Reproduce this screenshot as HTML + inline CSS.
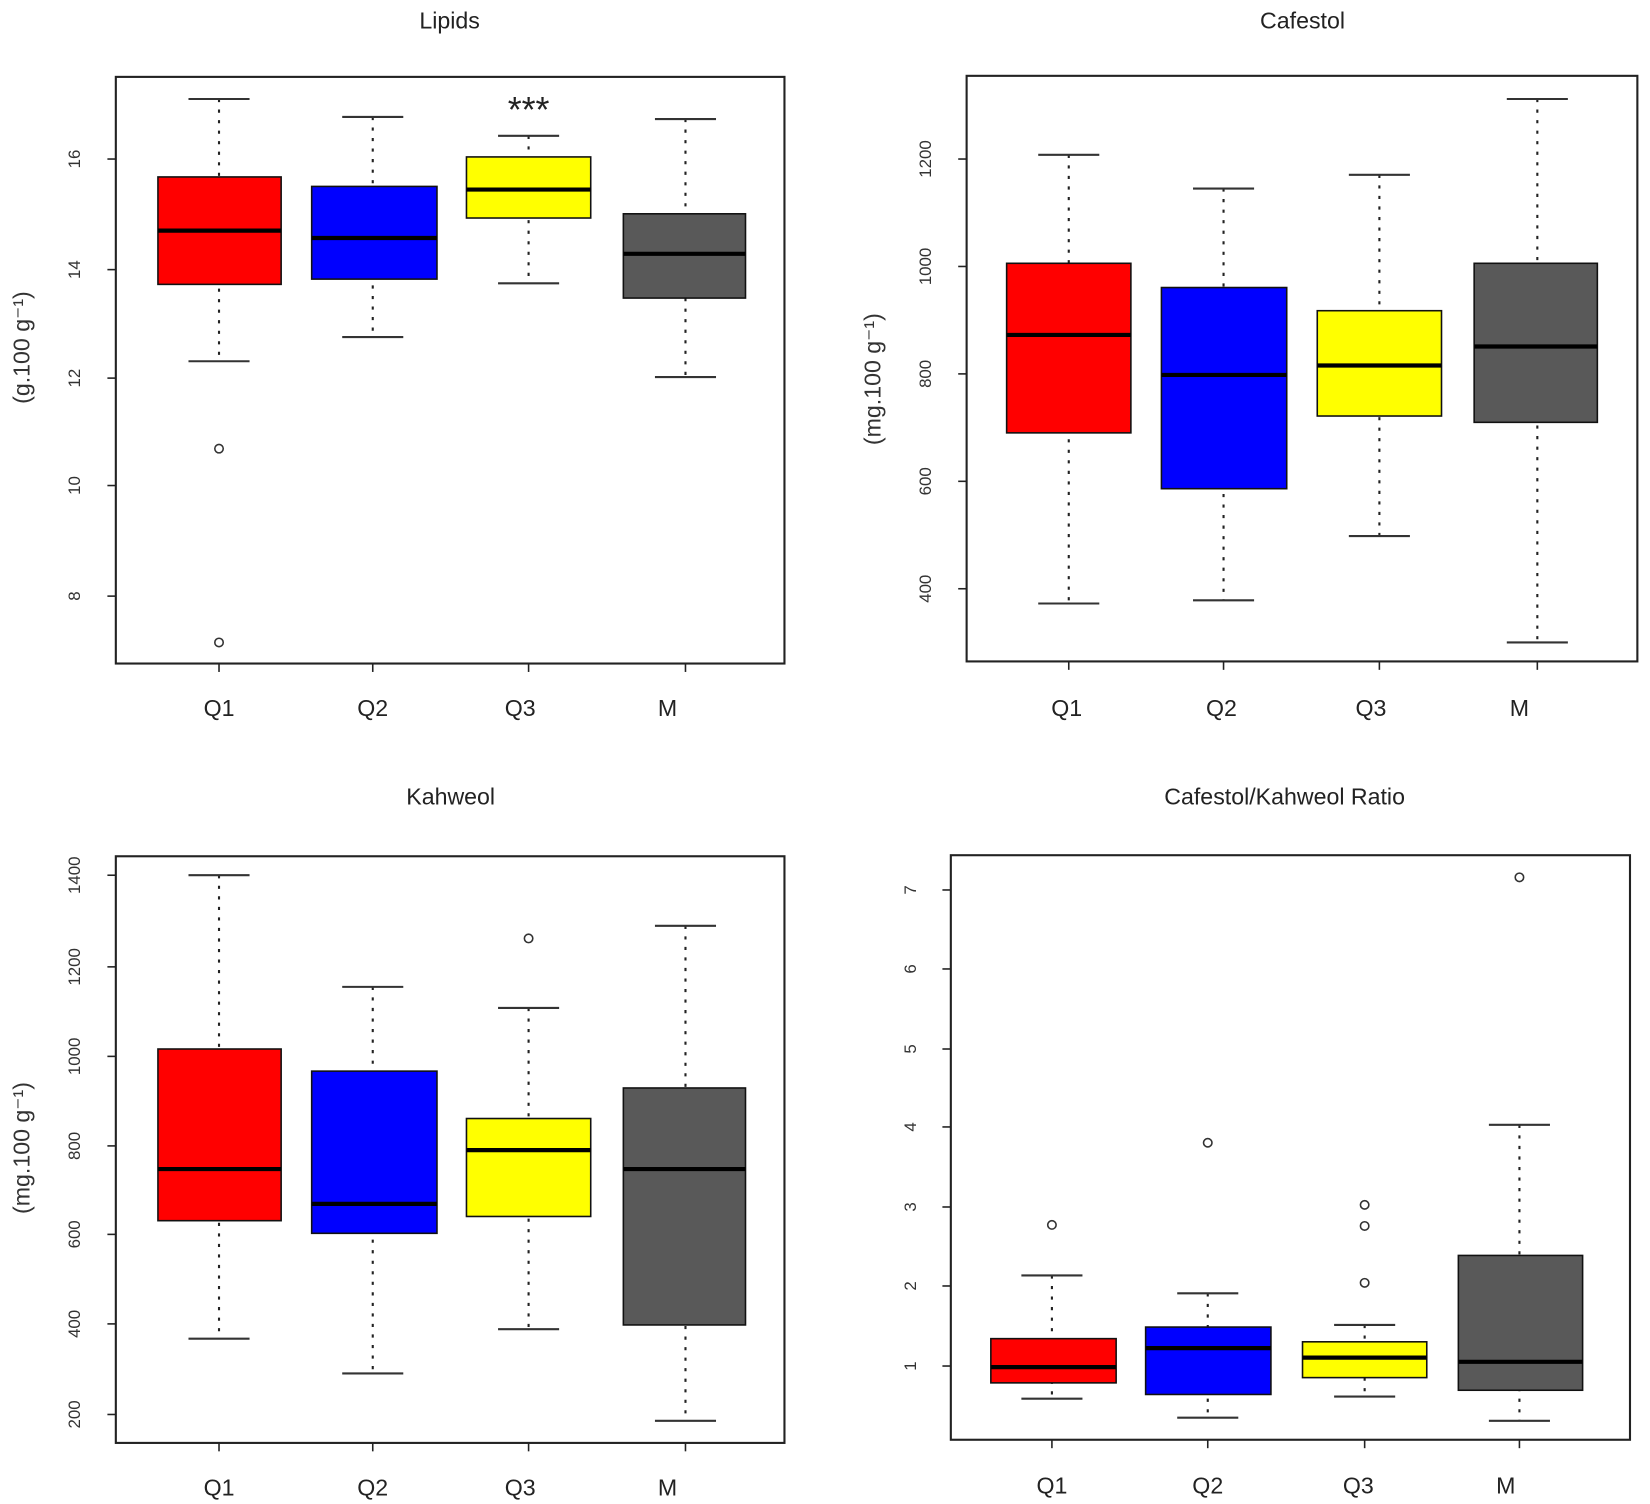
<!DOCTYPE html>
<html><head><style>html,body{margin:0;padding:0;background:#fff}svg{display:block}</style></head>
<body>
<svg width="1650" height="1504" viewBox="0 0 1567 1428" preserveAspectRatio="none" xmlns="http://www.w3.org/2000/svg" font-family="Liberation Sans, sans-serif">
<style>
.f{fill:none;stroke:#222;stroke-width:2}
.b{stroke:#111;stroke-width:1.5}
.m{stroke:#000;stroke-width:4}
.w{stroke:#222;stroke-width:2;stroke-dasharray:3,7}
.c{stroke:#333;stroke-width:2}
.o{fill:none;stroke:#333;stroke-width:1.5}
.tk{stroke:#222;stroke-width:1.5}
.t{font-size:22px;fill:#222;text-anchor:middle}
.y{font-size:16px;fill:#333;text-anchor:middle}
.x{font-size:22px;fill:#222;text-anchor:middle}
.l{font-size:22px;fill:#333;text-anchor:middle}
</style>

<!-- Panel 1 Lipids -->
<text class="t" x="427" y="27">Lipids</text>
<rect class="f" x="110" y="73" width="635" height="557"/>
<g class="tk"><line x1="102" y1="151" x2="110" y2="151"/><line x1="102" y1="256" x2="110" y2="256"/><line x1="102" y1="359" x2="110" y2="359"/><line x1="102" y1="461" x2="110" y2="461"/><line x1="102" y1="566" x2="110" y2="566"/>
<line x1="208" y1="630" x2="208" y2="638"/><line x1="354" y1="630" x2="354" y2="638"/><line x1="502" y1="630" x2="502" y2="638"/><line x1="651" y1="630" x2="651" y2="638"/></g>
<g class="y"><text transform="translate(76,151) rotate(-90)">16</text><text transform="translate(76,256) rotate(-90)">14</text><text transform="translate(76,359) rotate(-90)">12</text><text transform="translate(76,461) rotate(-90)">10</text><text transform="translate(76,566) rotate(-90)">8</text></g>
<text class="l" transform="translate(28,330) rotate(-90)">(g.100 g⁻¹)</text>
<g class="x"><text x="208" y="680">Q1</text><text x="354" y="680">Q2</text><text x="494" y="680">Q3</text><text x="634" y="680">M</text></g>
<line class="w" x1="208" y1="94" x2="208" y2="343"/><line class="c" x1="179" y1="94" x2="237" y2="94"/><line class="c" x1="179" y1="343" x2="237" y2="343"/>
<rect class="b" x="150" y="168" width="117" height="102" fill="#ff0000"/><line class="m" x1="150" y1="219" x2="267" y2="219"/>
<circle class="o" cx="208" cy="426" r="4"/><circle class="o" cx="208" cy="610" r="4"/>
<line class="w" x1="354" y1="111" x2="354" y2="320"/><line class="c" x1="325" y1="111" x2="383" y2="111"/><line class="c" x1="325" y1="320" x2="383" y2="320"/>
<rect class="b" x="296" y="177" width="119" height="88" fill="#0000ff"/><line class="m" x1="296" y1="226" x2="415" y2="226"/>
<line class="w" x1="502" y1="129" x2="502" y2="269"/><line class="c" x1="473" y1="129" x2="531" y2="129"/><line class="c" x1="473" y1="269" x2="531" y2="269"/>
<rect class="b" x="443" y="149" width="118" height="58" fill="#ffff00"/><line class="m" x1="443" y1="180" x2="561" y2="180"/>
<text x="502" y="116" font-size="34" fill="#222" text-anchor="middle">***</text>
<line class="w" x1="651" y1="113" x2="651" y2="358"/><line class="c" x1="622" y1="113" x2="680" y2="113"/><line class="c" x1="622" y1="358" x2="680" y2="358"/>
<rect class="b" x="592" y="203" width="116" height="80" fill="#595959"/><line class="m" x1="592" y1="241" x2="708" y2="241"/>

<!-- Panel 2 Cafestol -->
<text class="t" x="1237" y="27">Cafestol</text>
<rect class="f" x="918" y="72" width="637" height="556"/>
<g class="tk"><line x1="910" y1="151" x2="918" y2="151"/><line x1="910" y1="253" x2="918" y2="253"/><line x1="910" y1="355" x2="918" y2="355"/><line x1="910" y1="457" x2="918" y2="457"/><line x1="910" y1="559" x2="918" y2="559"/>
<line x1="1015" y1="628" x2="1015" y2="636"/><line x1="1162" y1="628" x2="1162" y2="636"/><line x1="1310" y1="628" x2="1310" y2="636"/><line x1="1460" y1="628" x2="1460" y2="636"/></g>
<g class="y"><text transform="translate(884,151) rotate(-90)">1200</text><text transform="translate(884,253) rotate(-90)">1000</text><text transform="translate(884,355) rotate(-90)">800</text><text transform="translate(884,457) rotate(-90)">600</text><text transform="translate(884,559) rotate(-90)">400</text></g>
<text class="l" transform="translate(836,360) rotate(-90)">(mg.100 g⁻¹)</text>
<g class="x"><text x="1013" y="680">Q1</text><text x="1160" y="680">Q2</text><text x="1302" y="680">Q3</text><text x="1443" y="680">M</text></g>
<line class="w" x1="1015" y1="147" x2="1015" y2="573"/><line class="c" x1="986" y1="147" x2="1044" y2="147"/><line class="c" x1="986" y1="573" x2="1044" y2="573"/>
<rect class="b" x="956" y="250" width="118" height="161" fill="#ff0000"/><line class="m" x1="956" y1="318" x2="1074" y2="318"/>
<line class="w" x1="1162" y1="179" x2="1162" y2="570"/><line class="c" x1="1133" y1="179" x2="1191" y2="179"/><line class="c" x1="1133" y1="570" x2="1191" y2="570"/>
<rect class="b" x="1103" y="273" width="119" height="191" fill="#0000ff"/><line class="m" x1="1103" y1="356" x2="1222" y2="356"/>
<line class="w" x1="1310" y1="166" x2="1310" y2="509"/><line class="c" x1="1281" y1="166" x2="1339" y2="166"/><line class="c" x1="1281" y1="509" x2="1339" y2="509"/>
<rect class="b" x="1251" y="295" width="118" height="100" fill="#ffff00"/><line class="m" x1="1251" y1="347" x2="1369" y2="347"/>
<line class="w" x1="1460" y1="94" x2="1460" y2="610"/><line class="c" x1="1431" y1="94" x2="1489" y2="94"/><line class="c" x1="1431" y1="610" x2="1489" y2="610"/>
<rect class="b" x="1400" y="250" width="117" height="151" fill="#595959"/><line class="m" x1="1400" y1="329" x2="1517" y2="329"/>

<!-- Panel 3 Kahweol -->
<text class="t" x="428" y="764">Kahweol</text>
<rect class="f" x="110" y="813" width="635" height="557"/>
<g class="tk"><line x1="102" y1="831" x2="110" y2="831"/><line x1="102" y1="918" x2="110" y2="918"/><line x1="102" y1="1003" x2="110" y2="1003"/><line x1="102" y1="1088" x2="110" y2="1088"/><line x1="102" y1="1172" x2="110" y2="1172"/><line x1="102" y1="1257" x2="110" y2="1257"/><line x1="102" y1="1343" x2="110" y2="1343"/>
<line x1="208" y1="1370" x2="208" y2="1378"/><line x1="354" y1="1370" x2="354" y2="1378"/><line x1="502" y1="1370" x2="502" y2="1378"/><line x1="651" y1="1370" x2="651" y2="1378"/></g>
<g class="y"><text transform="translate(76,831) rotate(-90)">1400</text><text transform="translate(76,918) rotate(-90)">1200</text><text transform="translate(76,1003) rotate(-90)">1000</text><text transform="translate(76,1088) rotate(-90)">800</text><text transform="translate(76,1172) rotate(-90)">600</text><text transform="translate(76,1257) rotate(-90)">400</text><text transform="translate(76,1343) rotate(-90)">200</text></g>
<text class="l" transform="translate(28,1090) rotate(-90)">(mg.100 g⁻¹)</text>
<g class="x"><text x="208" y="1420">Q1</text><text x="354" y="1420">Q2</text><text x="494" y="1420">Q3</text><text x="634" y="1420">M</text></g>
<line class="w" x1="208" y1="831" x2="208" y2="1271"/><line class="c" x1="179" y1="831" x2="237" y2="831"/><line class="c" x1="179" y1="1271" x2="237" y2="1271"/>
<rect class="b" x="150" y="996" width="117" height="163" fill="#ff0000"/><line class="m" x1="150" y1="1110" x2="267" y2="1110"/>
<line class="w" x1="354" y1="937" x2="354" y2="1304"/><line class="c" x1="325" y1="937" x2="383" y2="937"/><line class="c" x1="325" y1="1304" x2="383" y2="1304"/>
<rect class="b" x="296" y="1017" width="119" height="154" fill="#0000ff"/><line class="m" x1="296" y1="1143" x2="415" y2="1143"/>
<line class="w" x1="502" y1="957" x2="502" y2="1262"/><line class="c" x1="473" y1="957" x2="531" y2="957"/><line class="c" x1="473" y1="1262" x2="531" y2="1262"/>
<rect class="b" x="443" y="1062" width="118" height="93" fill="#ffff00"/><line class="m" x1="443" y1="1092" x2="561" y2="1092"/>
<circle class="o" cx="502" cy="891" r="4"/>
<line class="w" x1="651" y1="879" x2="651" y2="1349"/><line class="c" x1="622" y1="879" x2="680" y2="879"/><line class="c" x1="622" y1="1349" x2="680" y2="1349"/>
<rect class="b" x="592" y="1033" width="116" height="225" fill="#595959"/><line class="m" x1="592" y1="1110" x2="708" y2="1110"/>

<!-- Panel 4 Ratio -->
<text class="t" x="1220" y="764">Cafestol/Kahweol Ratio</text>
<rect class="f" x="903" y="812" width="645" height="555"/>
<g class="tk"><line x1="895" y1="845" x2="903" y2="845"/><line x1="895" y1="920" x2="903" y2="920"/><line x1="895" y1="996" x2="903" y2="996"/><line x1="895" y1="1070" x2="903" y2="1070"/><line x1="895" y1="1146" x2="903" y2="1146"/><line x1="895" y1="1221" x2="903" y2="1221"/><line x1="895" y1="1297" x2="903" y2="1297"/>
<line x1="999" y1="1367" x2="999" y2="1375"/><line x1="1147" y1="1367" x2="1147" y2="1375"/><line x1="1296" y1="1367" x2="1296" y2="1375"/><line x1="1443" y1="1367" x2="1443" y2="1375"/></g>
<g class="y"><text transform="translate(870,845) rotate(-90)">7</text><text transform="translate(870,920) rotate(-90)">6</text><text transform="translate(870,996) rotate(-90)">5</text><text transform="translate(870,1070) rotate(-90)">4</text><text transform="translate(870,1146) rotate(-90)">3</text><text transform="translate(870,1221) rotate(-90)">2</text><text transform="translate(870,1297) rotate(-90)">1</text></g>
<g class="x"><text x="999" y="1418">Q1</text><text x="1147" y="1418">Q2</text><text x="1290" y="1418">Q3</text><text x="1430" y="1418">M</text></g>
<line class="w" x1="999" y1="1211" x2="999" y2="1328"/><line class="c" x1="970" y1="1211" x2="1028" y2="1211"/><line class="c" x1="970" y1="1328" x2="1028" y2="1328"/>
<rect class="b" x="941" y="1271" width="119" height="42" fill="#ff0000"/><line class="m" x1="941" y1="1298" x2="1060" y2="1298"/>
<circle class="o" cx="999" cy="1163" r="4"/>
<line class="w" x1="1147" y1="1228" x2="1147" y2="1346"/><line class="c" x1="1118" y1="1228" x2="1176" y2="1228"/><line class="c" x1="1118" y1="1346" x2="1176" y2="1346"/>
<rect class="b" x="1088" y="1260" width="119" height="64" fill="#0000ff"/><line class="m" x1="1088" y1="1280" x2="1207" y2="1280"/>
<circle class="o" cx="1147" cy="1085" r="4"/>
<line class="w" x1="1296" y1="1258" x2="1296" y2="1326"/><line class="c" x1="1267" y1="1258" x2="1325" y2="1258"/><line class="c" x1="1267" y1="1326" x2="1325" y2="1326"/>
<rect class="b" x="1237" y="1274" width="118" height="34" fill="#ffff00"/><line class="m" x1="1237" y1="1289" x2="1355" y2="1289"/>
<circle class="o" cx="1296" cy="1144" r="4"/><circle class="o" cx="1296" cy="1164" r="4"/><circle class="o" cx="1296" cy="1218" r="4"/>
<line class="w" x1="1443" y1="1068" x2="1443" y2="1349"/><line class="c" x1="1414" y1="1068" x2="1472" y2="1068"/><line class="c" x1="1414" y1="1349" x2="1472" y2="1349"/>
<rect class="b" x="1385" y="1192" width="118" height="128" fill="#595959"/><line class="m" x1="1385" y1="1293" x2="1503" y2="1293"/>
<circle class="o" cx="1443" cy="833" r="4"/>
</svg>
</body></html>
